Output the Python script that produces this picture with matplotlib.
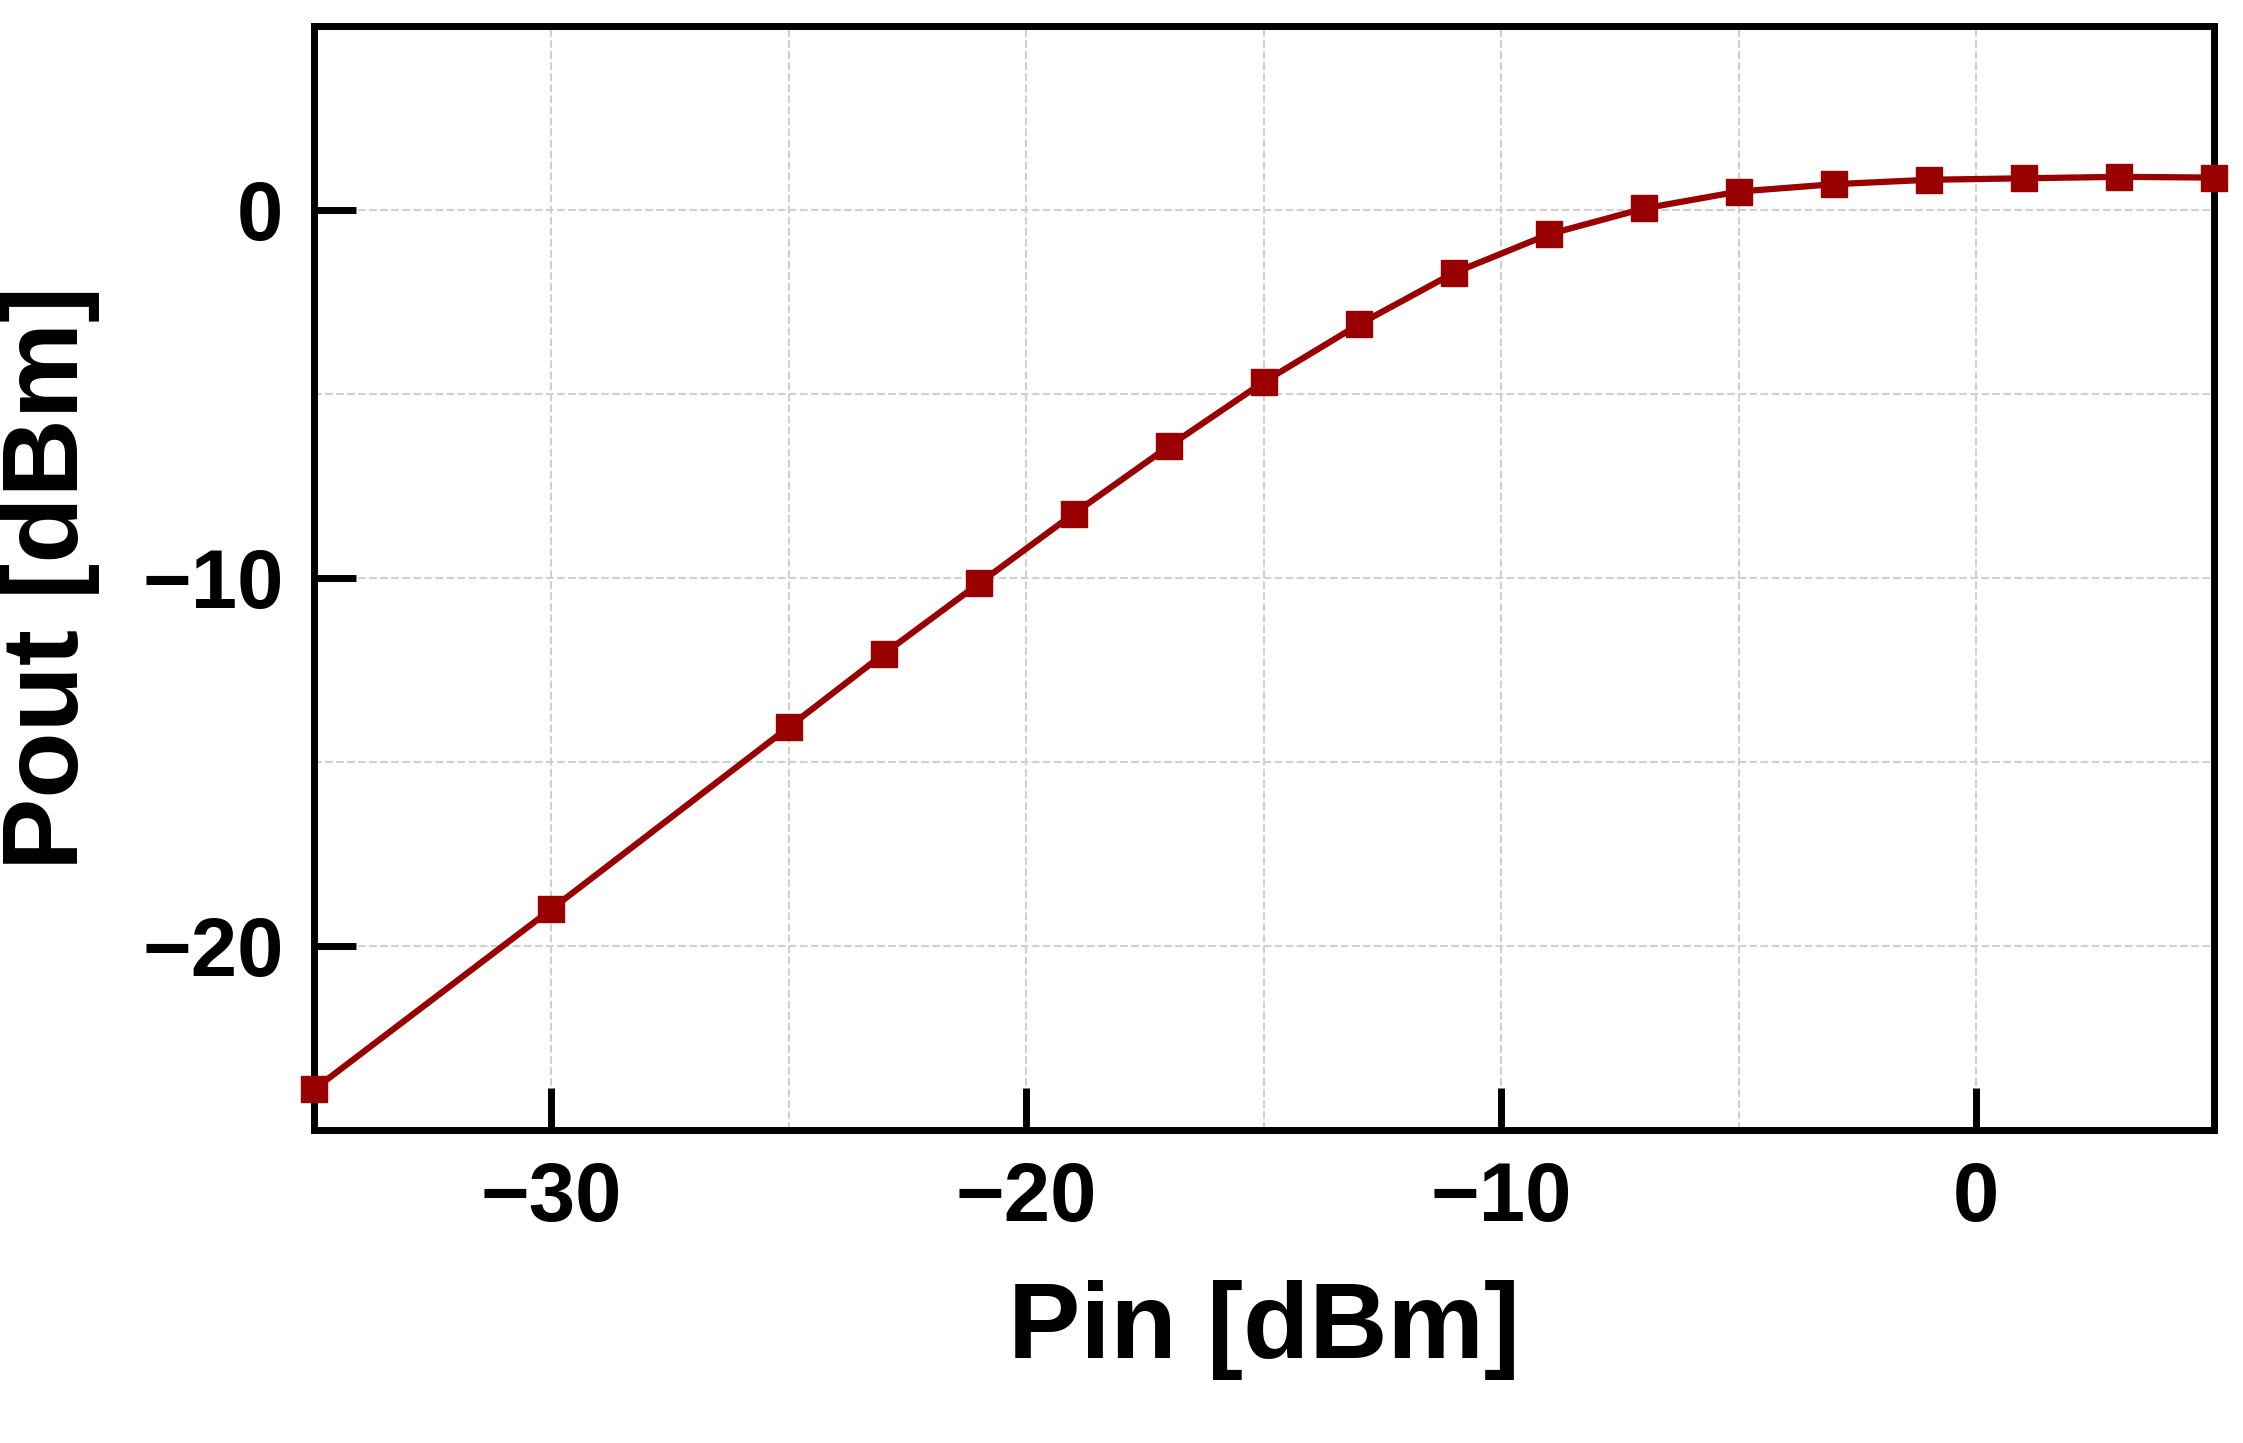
import matplotlib
matplotlib.use("Agg")
import matplotlib.pyplot as plt
from matplotlib.ticker import MultipleLocator

pin = [-35, -30, -25, -23, -21, -19, -17, -15, -13, -11, -9, -7, -5, -3, -1, 1, 3, 5]
pout = [-23.9, -19.0, -14.05, -12.06, -10.15, -8.25, -6.42, -4.67, -3.11, -1.71, -0.66, 0.04, 0.5, 0.7, 0.82, 0.86, 0.9, 0.88]

plt.rcParams['font.family'] = ['Liberation Sans', 'DejaVu Sans']
plt.rcParams['font.weight'] = 'bold'
fig = plt.figure(figsize=(22.43, 14.43), dpi=100)
ax = fig.add_axes([0.140, 0.217, 0.847, 0.765])
ax.plot(pin, pout, color='#990000', lw=4.5, marker='s', ms=19, clip_on=False, zorder=3)
ax.set_xlim(-35, 5)
ax.set_ylim(-25, 5)
ax.xaxis.set_major_locator(MultipleLocator(10))
ax.yaxis.set_major_locator(MultipleLocator(10))
ax.xaxis.set_minor_locator(MultipleLocator(5))
ax.yaxis.set_minor_locator(MultipleLocator(5))
ax.grid(True, which='both', ls='--', color='#d0d0d0', lw=1.5)
ax.tick_params(which='major', direction='in', length=30, width=5, labelsize=60, pad=22)
ax.tick_params(which='minor', length=0)
for s in ax.spines.values():
    s.set_linewidth(5)
ax.set_xlabel('Pin [dBm]', fontsize=78, fontweight='bold', labelpad=30)
ax.set_ylabel('Pout [dBm]', fontsize=78, fontweight='bold', labelpad=30)
fig.savefig('out.png', dpi=100)
